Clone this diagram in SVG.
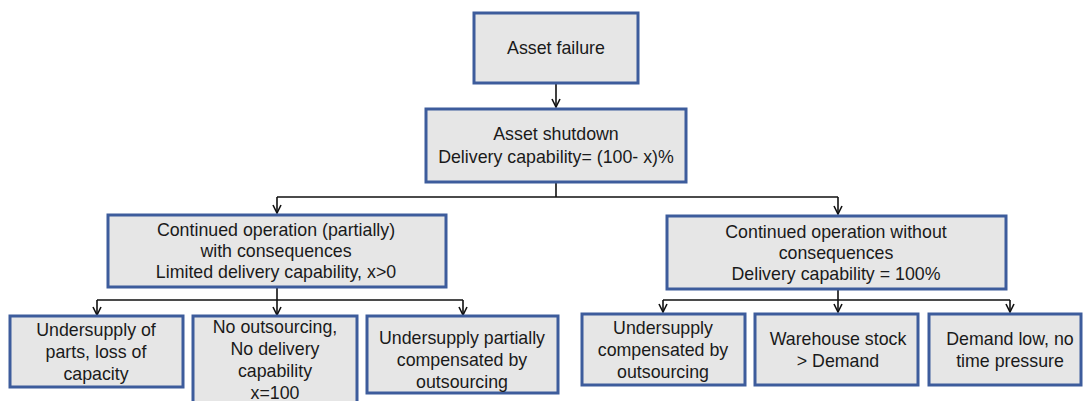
<svg xmlns="http://www.w3.org/2000/svg" width="1084" height="401" viewBox="0 0 1084 401">
  <defs>
    <style>
      .box { fill: #e6e6e6; stroke: #3d5c9c; stroke-width: 3; }
      .lbl { font-family: "Liberation Sans", Arial, sans-serif; font-size: 17.8px; fill: #1a1a1a; text-anchor: middle; }
      .wire { fill: none; stroke: #111; stroke-width: 1.6; }
    </style>
    <marker id="arrow" viewBox="0 0 10 10" refX="9" refY="5" markerWidth="10" markerHeight="10" markerUnits="userSpaceOnUse" orient="auto">
      <path d="M1,1 L9,5 L1,9" fill="none" stroke="#111" stroke-width="1.6"/>
    </marker>
  </defs>
  <rect width="1084" height="401" fill="#ffffff"/>

  <g id="connectors">
    <line class="wire" x1="556" y1="83" x2="556" y2="107" marker-end="url(#arrow)"/>
    <path class="wire" d="M556,182 V197 M277,197 H838"/>
    <line class="wire" x1="277" y1="197" x2="277" y2="213" marker-end="url(#arrow)"/>
    <line class="wire" x1="838" y1="197" x2="838" y2="214" marker-end="url(#arrow)"/>
    <path class="wire" d="M277,287 V300 M97,300 H463"/>
    <line class="wire" x1="97" y1="300" x2="97" y2="315" marker-end="url(#arrow)"/>
    <line class="wire" x1="277" y1="300" x2="277" y2="315" marker-end="url(#arrow)"/>
    <line class="wire" x1="463" y1="300" x2="463" y2="315" marker-end="url(#arrow)"/>
    <path class="wire" d="M838,289 V300 M663,300 H1010"/>
    <line class="wire" x1="663" y1="300" x2="663" y2="312" marker-end="url(#arrow)"/>
    <line class="wire" x1="838" y1="300" x2="838" y2="312" marker-end="url(#arrow)"/>
    <line class="wire" x1="1010" y1="300" x2="1010" y2="312" marker-end="url(#arrow)"/>
  </g>

  <g id="asset-failure">
    <rect class="box" x="474" y="13" width="164" height="70"/>
    <text class="lbl" x="556" y="54">Asset failure</text>
  </g>

  <g id="asset-shutdown">
    <rect class="box" x="426" y="109" width="260" height="73"/>
    <text class="lbl" x="556" y="140">Asset shutdown</text>
    <text class="lbl" x="556" y="163">Delivery capability= (100- x)%</text>
  </g>

  <g id="continued-with-consequences">
    <rect class="box" x="108" y="215" width="338" height="72"/>
    <text class="lbl" x="276" y="236">Continued operation (partially)</text>
    <text class="lbl" x="276" y="257">with consequences</text>
    <text class="lbl" x="276" y="278">Limited delivery capability, x&gt;0</text>
  </g>

  <g id="continued-without-consequences">
    <rect class="box" x="667" y="216" width="339" height="73"/>
    <text class="lbl" x="836" y="238">Continued operation without</text>
    <text class="lbl" x="836" y="259">consequences</text>
    <text class="lbl" x="836" y="280">Delivery capability = 100%</text>
  </g>

  <g id="undersupply-loss">
    <rect class="box" x="10" y="316" width="173" height="71"/>
    <text class="lbl" x="96" y="336">Undersupply of</text>
    <text class="lbl" x="96" y="358">parts, loss of</text>
    <text class="lbl" x="96" y="380">capacity</text>
  </g>

  <g id="no-outsourcing">
    <rect class="box" x="193" y="316" width="164" height="90"/>
    <text class="lbl" x="275" y="333">No outsourcing,</text>
    <text class="lbl" x="275" y="355">No delivery</text>
    <text class="lbl" x="275" y="377">capability</text>
    <text class="lbl" x="275" y="399">x=100</text>
  </g>

  <g id="undersupply-partially">
    <rect class="box" x="367" y="316" width="191" height="77"/>
    <text class="lbl" x="462" y="344">Undersupply partially</text>
    <text class="lbl" x="462" y="366">compensated by</text>
    <text class="lbl" x="462" y="388">outsourcing</text>
  </g>

  <g id="undersupply-compensated">
    <rect class="box" x="582" y="314" width="163" height="71"/>
    <text class="lbl" x="663" y="334">Undersupply</text>
    <text class="lbl" x="663" y="356">compensated by</text>
    <text class="lbl" x="663" y="378">outsourcing</text>
  </g>

  <g id="warehouse-stock">
    <rect class="box" x="755" y="314" width="163" height="71"/>
    <text class="lbl" x="838" y="345">Warehouse stock</text>
    <text class="lbl" x="838" y="367">&gt; Demand</text>
  </g>

  <g id="demand-low">
    <rect class="box" x="929" y="314" width="152" height="71"/>
    <text class="lbl" x="1010" y="345">Demand low, no</text>
    <text class="lbl" x="1010" y="367">time pressure</text>
  </g>
</svg>
